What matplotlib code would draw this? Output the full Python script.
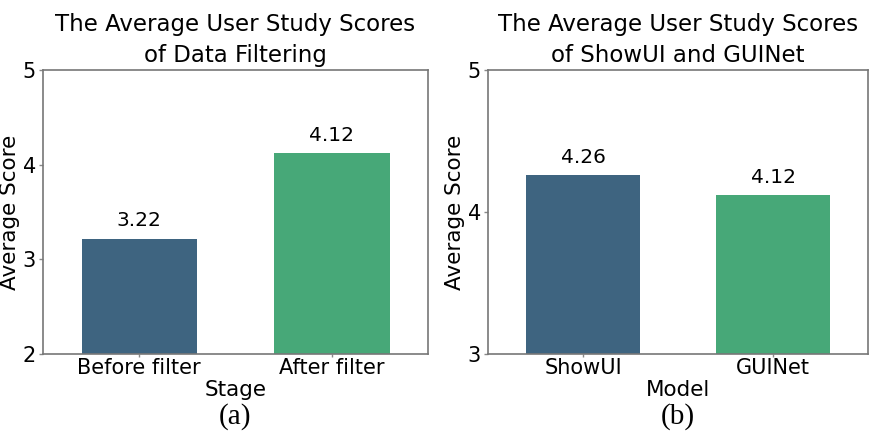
import matplotlib
matplotlib.use("Agg")
import matplotlib.pyplot as plt

# data
stages = ["Before filter", "After filter"]
stage_scores = [3.22, 4.12]
models = ["ShowUI", "GUINet"]
model_scores = [4.26, 4.12]
bar_colors = ["#3e6480", "#47a878"]

fig = plt.figure(figsize=(8.76, 4.34), dpi=100)
ax1 = fig.add_axes([43 / 876, 1 - 354 / 434, 385 / 876, 284 / 434])
ax2 = fig.add_axes([488 / 876, 1 - 354 / 434, 380 / 876, 284 / 434])


def draw(ax, cats, vals, ylim, title, xlabel, tag):
    bars = ax.bar(range(len(cats)), vals, width=0.6, color=bar_colors)
    for b, v in zip(bars, vals):
        ax.annotate(f"{v:.2f}", (b.get_x() + b.get_width() / 2, v),
                    xytext=(0, 6), textcoords="offset points",
                    ha="center", va="bottom", fontsize=14.5)
    ax.set_xlim(-0.5, len(cats) - 0.5)
    ax.set_ylim(*ylim)
    ax.set_yticks(range(ylim[0], ylim[1] + 1))
    ax.set_xticks(range(len(cats)))
    ax.set_xticklabels(cats, fontsize=15)
    ax.tick_params(axis="y", labelsize=15, length=3, width=1, color="#888888", pad=2)
    ax.tick_params(axis="x", length=2, width=1, color="#888888", pad=1)
    for s in ax.spines.values():
        s.set_color("#777777")
        s.set_linewidth(1.2)
    ax.set_title(title, fontsize=16.5, linespacing=1.4, pad=6)
    ax.set_xlabel(xlabel, fontsize=15.5, labelpad=1)
    ax.set_ylabel("Average Score", fontsize=15.5, labelpad=2)
    ax.text(0.5, -49 / 284, tag, transform=ax.transAxes, ha="center", va="top",
            fontsize=21, family="Liberation Serif")


draw(ax1, stages, stage_scores, (2, 5),
     "The Average User Study Scores\nof Data Filtering", "Stage", "(a)")
draw(ax2, models, model_scores, (3, 5),
     "The Average User Study Scores\nof ShowUI and GUINet", "Model", "(b)")

fig.savefig("out.png", dpi=100)
